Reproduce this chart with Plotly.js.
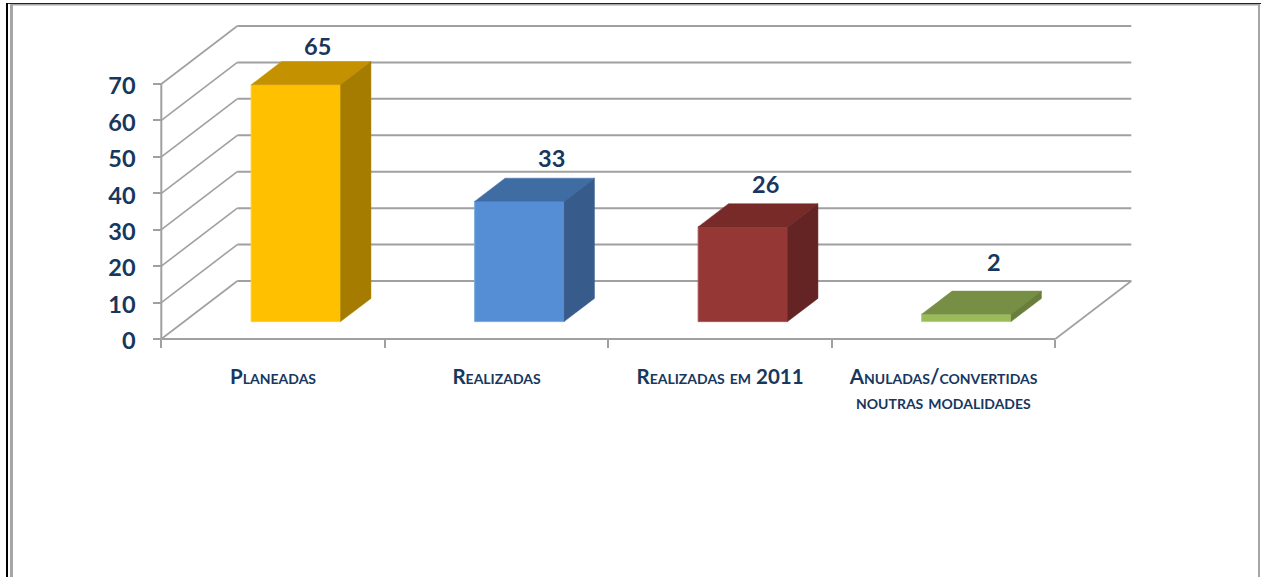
<!DOCTYPE html>
<html>
<head>
<meta charset="utf-8">
<script src="https://cdn.plot.ly/plotly-3.0.1.min.js"></script>
<style>html,body{margin:0;padding:0;background:#fff;overflow:hidden}#chart{width:1262px;height:577px}</style>
</head>
<body>
<div id="chart"></div>
<script>
// Data
const categories = ["Planeadas", "Realizadas", "Realizadas em 2011", "Anuladas/convertidas"];
const categorySecondLine = ["", "", "", "noutras modalidades"];
const values = [65, 33, 26, 2];
const yTicks = [0, 10, 20, 30, 40, 50, 60, 70];

// Styles
const frontColors = ["#FFC000", "#558ED5", "#953735", "#9BBB59"];
const topColors   = ["#C49200", "#3F6CA3", "#772A28", "#778F45"];
const sideColors  = ["#A67C00", "#375C8C", "#632423", "#687E3A"];
const edgeColors  = ["#FFCB33", "#7AA7DE", "#A85654", "#B5CF7E"];
const textColor = "#17375E";
const gridColor = "#A0A0A0";
const fontFamily = "Lato, 'Open Sans', sans-serif";

// Layout constants
const W = 1262, H = 577;
const originX = 161.3, originY = 339;      // pixel position of the (0,0) corner
const pxPerCat = 223.5, pxPerVal = 3.643;
const depthX = 76 / pxPerCat, depthY = 58 / pxPerVal; // wall depth in axis units
const barDepthStart = 0.3, barDepth = 0.4, barWidth = 0.4;
const labelShiftX = [22, 32, 23, 28], labelShiftY = [39, 43, 43, 52];

const base = barDepthStart * depthY;
const centers = categories.map((_, i) => i + 0.5);
const frontX = centers.map(c => c + barDepthStart * depthX);
const ddx = barDepth * depthX, ddy = barDepth * depthY;

const traces = [{
  type: "bar", x: frontX, y: values, base: values.map(() => base), width: barWidth,
  marker: {color: frontColors, line: {color: edgeColors, width: 1}},
  hoverinfo: "skip", showlegend: false
}];
values.forEach((v, i) => {
  const x0 = frontX[i] - barWidth / 2, x1 = frontX[i] + barWidth / 2, t = base + v;
  traces.push({
    type: "scatter", mode: "lines", fill: "toself", fillcolor: topColors[i],
    x: [x0, x0 + ddx, x1 + ddx, x1, x0], y: [t, t + ddy, t + ddy, t, t],
    line: {width: 0.5, color: topColors[i]}, hoverinfo: "skip", showlegend: false, cliponaxis: false
  });
  traces.push({
    type: "scatter", mode: "lines", fill: "toself", fillcolor: sideColors[i],
    x: [x1, x1 + ddx, x1 + ddx, x1, x1], y: [base, base + ddy, t + ddy, t, base],
    line: {width: 0.5, color: sideColors[i]}, hoverinfo: "skip", showlegend: false, cliponaxis: false
  });
});

// Walls and floor
const gl = w => ({color: gridColor, width: w});
const shapes = [];
const seg = (x0, y0, x1, y1, w) => shapes.push({type: "line", layer: "below", xref: "x", yref: "y", x0, y0, x1, y1, line: gl(w)});
const nCat = categories.length;
yTicks.forEach(v => {
  seg(depthX, v + depthY, nCat + depthX, v + depthY, 2);
  seg(0, v, depthX, v + depthY, 1.6);
});
seg(0, 0, nCat, 0, 2);
seg(0, 0, 0, yTicks[yTicks.length - 1], 2);
seg(nCat, 0, nCat + depthX, depthY, 1.6);

// Page frame
const frame = (x0, y0, x1, y1, c) => shapes.push({type: "rect", xref: "paper", yref: "paper", layer: "above",
  x0: x0 / W, x1: x1 / W, y0: 1 - y0 / H, y1: 1 - y1 / H, fillcolor: c, line: {width: 0}});
frame(6, 3, 1261, 4, "#222222");
frame(6, 3, 8, 577, "#000000");
frame(10, 4, 13, 577, "#A6A6A6");
frame(10, 4, 1260, 5.5, "#A6A6A6");
frame(1258, 4, 1260, 577, "#A6A6A6");

const annotations = values.map((v, i) => ({
  x: frontX[i], y: base + v, xref: "x", yref: "y", text: String(v), showarrow: false,
  xanchor: "center", yanchor: "middle", xshift: labelShiftX[i], yshift: labelShiftY[i],
  font: {family: fontFamily, size: 23.5, color: textColor, weight: 700}
}));
categorySecondLine.forEach((t, i) => {
  if (t) annotations.push({
    x: centers[i], y: 0, xref: "x", yref: "y", text: t, showarrow: false,
    xanchor: "center", yanchor: "middle", yshift: -62,
    font: {family: fontFamily, size: 20.5, color: textColor, weight: 700, variant: "small-caps"}
  });
});

const layout = {
  width: W, height: H, margin: {l: 0, r: 0, t: 0, b: 0, pad: 0},
  paper_bgcolor: "#fff", plot_bgcolor: "#fff", showlegend: false, hovermode: false,
  bargap: 0,
  xaxis: {
    type: "linear", domain: [0, 1], anchor: "free", position: 1 - originY / H,
    range: [-originX / pxPerCat, (W - originX) / pxPerCat],
    tickmode: "array", tickvals: centers, ticktext: categories,
    ticks: "", showgrid: false, zeroline: false, showline: false,
    ticklabelstandoff: 23,
    tickfont: {family: fontFamily, size: 20.5, color: textColor, weight: 700, variant: "small-caps"},
    tickangle: 0,
    minor: {tickmode: "array", tickvals: categories.map((_, i) => i).concat([nCat]), ticks: "outside", ticklen: 8, tickwidth: 2, tickcolor: gridColor, showgrid: false}
  },
  yaxis: {
    type: "linear", domain: [0, 1], anchor: "free", position: originX / W,
    range: [(originY - H) / pxPerVal, originY / pxPerVal],
    tickmode: "array", tickvals: yTicks, ticktext: yTicks.map(String),
    ticks: "outside", ticklen: 8, tickwidth: 2, tickcolor: gridColor,
    showgrid: false, zeroline: false, showline: false,
    ticklabelstandoff: 13, ticklabelshift: 2,
    tickfont: {family: fontFamily, size: 23.5, color: textColor, weight: 700}
  },
  shapes, annotations
};
Plotly.newPlot("chart", traces, layout, {staticPlot: true, displayModeBar: false});
</script>
</body>
</html>
